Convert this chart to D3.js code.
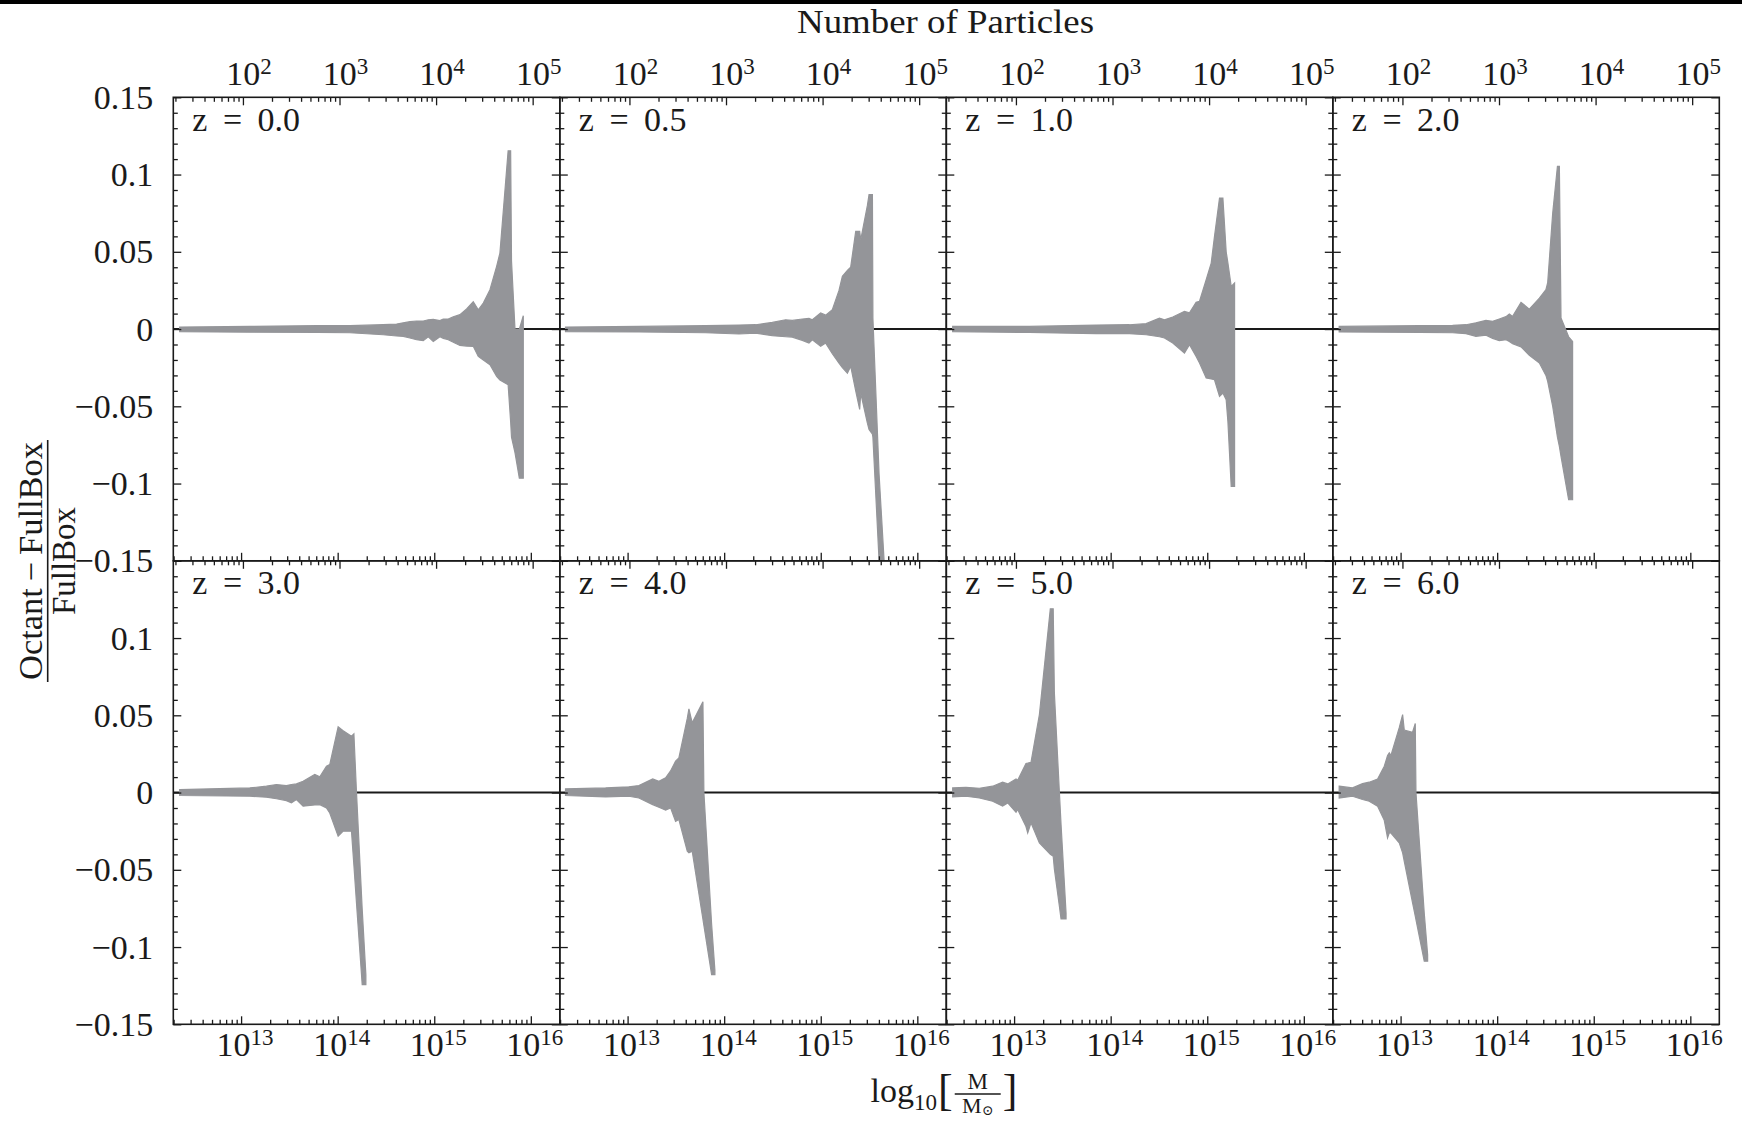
<!DOCTYPE html>
<html>
<head>
<meta charset="utf-8">
<script src="https://cdn.jsdelivr.net/npm/d3@7/dist/d3.min.js"></script>
<style>
  body { margin: 0; background: #fff; }
  text { font-family: "Liberation Serif", "DejaVu Serif", serif; fill: #1a1a1a; }
</style>
</head>
<body>
<div id="chart"></div>
<script>
// Band edges per redshift: log10(M/Msun), upper edge, lower edge of (Octant-FullBox)/FullBox
const z00_logM = [12.364, 13.090, 13.781, 14.126, 14.471, 14.610, 14.679, 14.748, 14.817, 14.886, 14.938, 14.990, 15.059, 15.093, 15.145, 15.197, 15.266, 15.335, 15.404, 15.456, 15.508, 15.577, 15.646, 15.680, 15.765, 15.791, 15.800, 15.836, 15.881, 15.922];
const z00_hi = [0.0013, 0.0017, 0.0022, 0.0022, 0.0028, 0.0032, 0.0040, 0.0048, 0.0052, 0.0052, 0.0060, 0.0062, 0.0055, 0.0065, 0.0065, 0.0080, 0.0093, 0.0130, 0.0177, 0.0125, 0.0168, 0.0255, 0.0406, 0.0492, 0.1154, 0.1154, 0.0440, 0.0000, 0.0000, 0.0086];
const z00_lo = [-0.0017, -0.0020, -0.0022, -0.0024, -0.0037, -0.0045, -0.0047, -0.0058, -0.0069, -0.0075, -0.0050, -0.0080, -0.0050, -0.0060, -0.0069, -0.0085, -0.0106, -0.0110, -0.0112, -0.0177, -0.0200, -0.0231, -0.0306, -0.0330, -0.0360, -0.0600, -0.0700, -0.0800, -0.0965, -0.0965];

const z05_logM = [12.357, 13.117, 13.808, 14.153, 14.326, 14.498, 14.636, 14.705, 14.809, 14.878, 14.913, 14.999, 15.051, 15.120, 15.189, 15.224, 15.276, 15.310, 15.362, 15.403, 15.414, 15.483, 15.500, 15.535, 15.540, 15.604, 15.656];
const z05_hi = [0.0013, 0.0017, 0.0022, 0.0026, 0.0028, 0.0043, 0.0060, 0.0056, 0.0065, 0.0069, 0.0060, 0.0104, 0.0090, 0.0125, 0.0250, 0.0341, 0.0380, 0.0401, 0.0632, 0.0632, 0.0578, 0.0800, 0.0870, 0.0870, 0.0071, -0.0940, -0.1500];
const z05_lo = [-0.0017, -0.0019, -0.0024, -0.0032, -0.0026, -0.0043, -0.0050, -0.0052, -0.0073, -0.0090, -0.0069, -0.0112, -0.0091, -0.0160, -0.0220, -0.0250, -0.0285, -0.0240, -0.0400, -0.0520, -0.0415, -0.0609, -0.0650, -0.0680, -0.0700, -0.1500, -0.1650];

const z10_logM = [12.364, 13.158, 13.849, 14.194, 14.367, 14.505, 14.557, 14.643, 14.764, 14.816, 14.885, 14.920, 14.989, 15.041, 15.075, 15.127, 15.162, 15.196, 15.214, 15.248, 15.283];
const z10_hi = [0.0017, 0.0017, 0.0026, 0.0028, 0.0035, 0.0071, 0.0060, 0.0078, 0.0114, 0.0105, 0.0173, 0.0180, 0.0319, 0.0427, 0.0600, 0.0848, 0.0848, 0.0500, 0.0427, 0.0276, 0.0298];
const z10_lo = [-0.0017, -0.0022, -0.0030, -0.0030, -0.0037, -0.0050, -0.0058, -0.0090, -0.0155, -0.0101, -0.0177, -0.0220, -0.0317, -0.0323, -0.0328, -0.0436, -0.0414, -0.0457, -0.0600, -0.1019, -0.1019];

const z20_logM = [12.364, 13.193, 13.538, 13.677, 13.780, 13.884, 13.953, 14.022, 14.091, 14.126, 14.160, 14.247, 14.333, 14.437, 14.505, 14.523, 14.575, 14.624, 14.644, 14.661, 14.740, 14.781];
const z20_hi = [0.0017, 0.0022, 0.0024, 0.0028, 0.0040, 0.0056, 0.0050, 0.0065, 0.0080, 0.0097, 0.0082, 0.0173, 0.0129, 0.0200, 0.0255, 0.0300, 0.0750, 0.1053, 0.1053, 0.0071, -0.0050, -0.0080];
const z20_lo = [-0.0019, -0.0022, -0.0024, -0.0030, -0.0047, -0.0040, -0.0060, -0.0075, -0.0069, -0.0080, -0.0095, -0.0115, -0.0170, -0.0220, -0.0300, -0.0339, -0.0500, -0.0700, -0.0760, -0.0824, -0.1105, -0.1105];

const z30_logM = [12.364, 13.090, 13.262, 13.366, 13.469, 13.521, 13.573, 13.642, 13.763, 13.815, 13.884, 13.918, 14.005, 14.057, 14.143, 14.168, 14.195, 14.254, 14.292];
const z30_hi = [0.0019, 0.0030, 0.0041, 0.0052, 0.0045, 0.0052, 0.0056, 0.0073, 0.0117, 0.0102, 0.0170, 0.0181, 0.0425, 0.0400, 0.0365, 0.0380, 0.0000, -0.0755, -0.1180];
const z30_lo = [-0.0019, -0.0024, -0.0030, -0.0040, -0.0052, -0.0067, -0.0045, -0.0088, -0.0080, -0.0078, -0.0100, -0.0132, -0.0283, -0.0250, -0.0250, -0.0470, -0.0717, -0.1243, -0.1243];

const z40_logM = [12.357, 12.772, 13.013, 13.117, 13.260, 13.324, 13.394, 13.445, 13.497, 13.531, 13.618, 13.635, 13.669, 13.780, 13.790, 13.870, 13.904];
const z40_hi = [0.0024, 0.0030, 0.0037, 0.0045, 0.0088, 0.0073, 0.0095, 0.0140, 0.0203, 0.0224, 0.0480, 0.0542, 0.0451, 0.0587, 0.0000, -0.0852, -0.1150];
const z40_lo = [-0.0019, -0.0028, -0.0024, -0.0035, -0.0078, -0.0095, -0.0114, -0.0099, -0.0186, -0.0175, -0.0380, -0.0390, -0.0380, -0.0820, -0.0860, -0.1178, -0.1178];

const z50_logM = [12.364, 12.502, 12.640, 12.778, 12.881, 12.934, 13.020, 13.037, 13.123, 13.141, 13.175, 13.262, 13.375, 13.405, 13.417, 13.469, 13.486, 13.538];
const z50_hi = [0.0030, 0.0034, 0.0028, 0.0041, 0.0067, 0.0056, 0.0088, 0.0080, 0.0188, 0.0190, 0.0196, 0.0505, 0.1189, 0.1189, 0.0645, 0.0000, -0.0205, -0.0780];
const z50_lo = [-0.0028, -0.0024, -0.0035, -0.0056, -0.0088, -0.0067, -0.0127, -0.0110, -0.0220, -0.0261, -0.0196, -0.0326, -0.0400, -0.0412, -0.0494, -0.0736, -0.0818, -0.0818];

const z60_logM = [12.364, 12.502, 12.606, 12.675, 12.762, 12.831, 12.865, 12.883, 12.900, 12.986, 13.021, 13.038, 13.124, 13.152, 13.159, 13.245, 13.280];
const z60_hi = [0.0041, 0.0030, 0.0058, 0.0067, 0.0088, 0.0170, 0.0240, 0.0257, 0.0240, 0.0420, 0.0505, 0.0404, 0.0390, 0.0447, 0.0000, -0.0781, -0.1050];
const z60_lo = [-0.0035, -0.0024, -0.0045, -0.0056, -0.0088, -0.0180, -0.0293, -0.0260, -0.0262, -0.0326, -0.0390, -0.0445, -0.0714, -0.0800, -0.0822, -0.1092, -0.1092];

const panelLabels = ["z = 0.0", "z = 0.5", "z = 1.0", "z = 2.0", "z = 3.0", "z = 4.0", "z = 5.0", "z = 6.0"];

// Tick labels
const massTickExp = [13, 14, 15, 16];
const particleTickExp = [2, 3, 4, 5];
const yTicksTop = [0.15, 0.1, 0.05, 0, -0.05, -0.1, -0.15];
const yTicksBottom = [0.1, 0.05, 0, -0.05, -0.1, -0.15];

// Axis ranges
const massRange = [12.298, 16.300];  // log10 mass at left/right panel edge
const logParticleMass = 11.019;        // log10 mass of one particle

const panels = [
  { label: panelLabels[0], logM: z00_logM, hi: z00_hi, lo: z00_lo },
  { label: panelLabels[1], logM: z05_logM, hi: z05_hi, lo: z05_lo },
  { label: panelLabels[2], logM: z10_logM, hi: z10_hi, lo: z10_lo },
  { label: panelLabels[3], logM: z20_logM, hi: z20_hi, lo: z20_lo },
  { label: panelLabels[4], logM: z30_logM, hi: z30_hi, lo: z30_lo },
  { label: panelLabels[5], logM: z40_logM, hi: z40_hi, lo: z40_lo },
  { label: panelLabels[6], logM: z50_logM, hi: z50_hi, lo: z50_lo },
  { label: panelLabels[7], logM: z60_logM, hi: z60_hi, lo: z60_lo }
];

const width = 1742;
const height = 1124;
const gridLeft = 173.3, gridTop = 97.3;
const panelW = 386.5, panelH = 463.5;
const grey = "#949599";
const ink = "#1a1a1a";

const svg = d3.select("#chart")
  .append("svg")
  .attr("width", width)
  .attr("height", height);

svg.append("rect").attr("width", width).attr("height", height).attr("fill", "#fff");
// black strip on the top edge
svg.append("rect").attr("width", width).attr("height", 4).attr("fill", "#000");

const x = d3.scaleLog()
  .domain([Math.pow(10, massRange[0]), Math.pow(10, massRange[1])])
  .range([0, panelW]);
const xN = d3.scaleLog()
  .domain([Math.pow(10, massRange[0] - logParticleMass), Math.pow(10, massRange[1] - logParticleMass)])
  .range([0, panelW]);
const y = d3.scaleLinear().domain([-0.15, 0.15]).range([panelH, 0]);

function logMinors(scale, e0, e1) {
  const [a, b] = scale.domain();
  const out = [];
  for (let e = e0; e <= e1; e++) {
    for (let m = 2; m <= 9; m++) {
      const v = m * Math.pow(10, e);
      if (v >= a && v <= b) out.push(v);
    }
  }
  return out;
}
const massMajor = massTickExp.map(e => Math.pow(10, e));
const massMinor = logMinors(x, 12, 16);
const partMajor = particleTickExp.map(e => Math.pow(10, e));
const partMinor = logMinors(xN, 1, 5);
const yMajor = [-0.15, -0.1, -0.05, 0, 0.05, 0.1, 0.15];
const yMinor = d3.range(-15, 16).filter(k => k % 5 !== 0).map(k => k / 100);

function tidy(g) {
  g.select(".domain").remove();
  g.selectAll("text").remove();
  g.selectAll("line").attr("stroke", ink).attr("stroke-width", 1.3);
}

function supLabel(sel, exp) {
  sel.append("tspan").text("10");
  sel.append("tspan").attr("dy", -11).style("font-size", "23px").text(exp);
}

const defs = svg.append("defs");

panels.forEach(function(p, i) {
  const col = i % 4, row = Math.floor(i / 4);
  const ox = gridLeft + col * panelW, oy = gridTop + row * panelH;
  const g = svg.append("g").attr("transform", `translate(${ox},${oy})`);

  defs.append("clipPath").attr("id", "clip" + i)
    .append("rect").attr("width", panelW).attr("height", panelH);

  // zero line
  g.append("line")
    .attr("x1", 0).attr("x2", panelW)
    .attr("y1", y(0)).attr("y2", y(0))
    .attr("stroke", ink).attr("stroke-width", 2);

  const pts = p.logM.map((m, j) => ({ m: m, hi: p.hi[j], lo: p.lo[j] }));
  const area = d3.area()
    .x(d => x(Math.pow(10, d.m)))
    .y0(d => y(d.lo))
    .y1(d => y(d.hi));

  g.append("path")
    .datum(pts)
    .attr("d", area)
    .attr("fill", grey)
    .attr("stroke", grey)
    .attr("stroke-width", 1.2)
    .attr("stroke-linejoin", "miter")
    .attr("clip-path", `url(#clip${i})`);

  // ticks, all pointing inward
  g.append("g").attr("transform", `translate(0,${panelH})`)
    .call(d3.axisBottom(x).tickValues(massMajor).tickSize(-8)).call(tidy);
  g.append("g").attr("transform", `translate(0,${panelH})`)
    .call(d3.axisBottom(x).tickValues(massMinor).tickSize(-4.5)).call(tidy);
  g.append("g")
    .call(d3.axisTop(xN).tickValues(partMajor).tickSize(-8)).call(tidy);
  g.append("g")
    .call(d3.axisTop(xN).tickValues(partMinor).tickSize(-4.5)).call(tidy);
  g.append("g").call(d3.axisLeft(y).tickValues(yMajor).tickSize(-8)).call(tidy);
  g.append("g").call(d3.axisLeft(y).tickValues(yMinor).tickSize(-4.5)).call(tidy);
  g.append("g").attr("transform", `translate(${panelW},0)`)
    .call(d3.axisRight(y).tickValues(yMajor).tickSize(-8)).call(tidy);
  g.append("g").attr("transform", `translate(${panelW},0)`)
    .call(d3.axisRight(y).tickValues(yMinor).tickSize(-4.5)).call(tidy);

  // frame
  g.append("rect")
    .attr("width", panelW).attr("height", panelH)
    .attr("fill", "none").attr("stroke", ink).attr("stroke-width", 1.6);

  // panel label
  g.append("text")
    .attr("x", 19).attr("y", 33.5)
    .style("font-size", "34px")
    .style("word-spacing", "7px")
    .text(p.label);

  // tick labels
  if (row === 0) {
    particleTickExp.forEach(function(e) {
      const t = g.append("text")
        .attr("x", xN(Math.pow(10, e)) + 6)
        .attr("y", -12.5)
        .attr("text-anchor", "middle")
        .style("font-size", "34px");
      supLabel(t, e);
    });
  } else {
    massTickExp.forEach(function(e) {
      const t = g.append("text")
        .attr("x", x(Math.pow(10, e)) + 4)
        .attr("y", panelH + 32)
        .attr("text-anchor", "middle")
        .style("font-size", "34px");
      supLabel(t, e);
    });
  }
  if (col === 0) {
    (row === 0 ? yTicksTop : yTicksBottom).forEach(function(v) {
      const s = v === 0 ? "0" : (v < 0 ? "\u2212" : "") + String(+Math.abs(v).toFixed(2));
      g.append("text")
        .attr("x", -20)
        .attr("y", y(v))
        .attr("dy", "0.34em")
        .attr("text-anchor", "end")
        .style("font-size", "34px")
        .text(s);
    });
  }
});

// top axis title
svg.append("text")
  .attr("x", 945.5).attr("y", 33)
  .attr("text-anchor", "middle")
  .style("font-size", "33px")
  .attr("textLength", 297)
  .attr("lengthAdjust", "spacingAndGlyphs")
  .text("Number of Particles");

// y label: (Octant - FullBox) / FullBox, rotated
const yl = svg.append("g").attr("transform", "translate(47.7,561) rotate(-90)");
yl.append("text")
  .attr("x", 0).attr("y", -6)
  .attr("text-anchor", "middle")
  .style("font-size", "33px")
  .attr("textLength", 238)
  .attr("lengthAdjust", "spacingAndGlyphs")
  .text("Octant\u2009\u2212\u2009FullBox");
yl.append("line")
  .attr("x1", -121).attr("x2", 121)
  .attr("stroke", ink).attr("stroke-width", 1.6);
yl.append("text")
  .attr("x", 0).attr("y", 27)
  .attr("text-anchor", "middle")
  .style("font-size", "33px")
  .text("FullBox");

// x label: log10[M / Msun]
const xl = svg.append("g");
const t1 = xl.append("text").attr("x", 0).attr("y", 0).style("font-size", "34px");
t1.append("tspan").text("log");
t1.append("tspan").attr("dy", 8).style("font-size", "23px").text("10");
const w1 = t1.node().getComputedTextLength();
const br1 = xl.append("text").attr("x", w1 + 1).attr("y", 3).style("font-size", "44px").text("[");
const wb = br1.node().getComputedTextLength();
const fx = w1 + 1 + wb + 2;
const fracW = 46;
xl.append("text").attr("x", fx + fracW / 2).attr("y", -13)
  .attr("text-anchor", "middle").style("font-size", "23px").text("M");
xl.append("line").attr("x1", fx).attr("x2", fx + fracW).attr("y1", -8).attr("y2", -8)
  .attr("stroke", ink).attr("stroke-width", 1.4);
const den = xl.append("text").attr("x", fx + fracW / 2).attr("y", 11)
  .attr("text-anchor", "middle").style("font-size", "22px");
den.append("tspan").text("M");
den.append("tspan").attr("dy", 2).style("font-size", "14px").text("\u2299");
xl.append("text").attr("x", fx + fracW + 2).attr("y", 3).style("font-size", "44px").text("]");
const totalW = fx + fracW + 2 + wb;
xl.attr("transform", `translate(${944 - totalW / 2},1102)`);
</script>
</body>
</html>
